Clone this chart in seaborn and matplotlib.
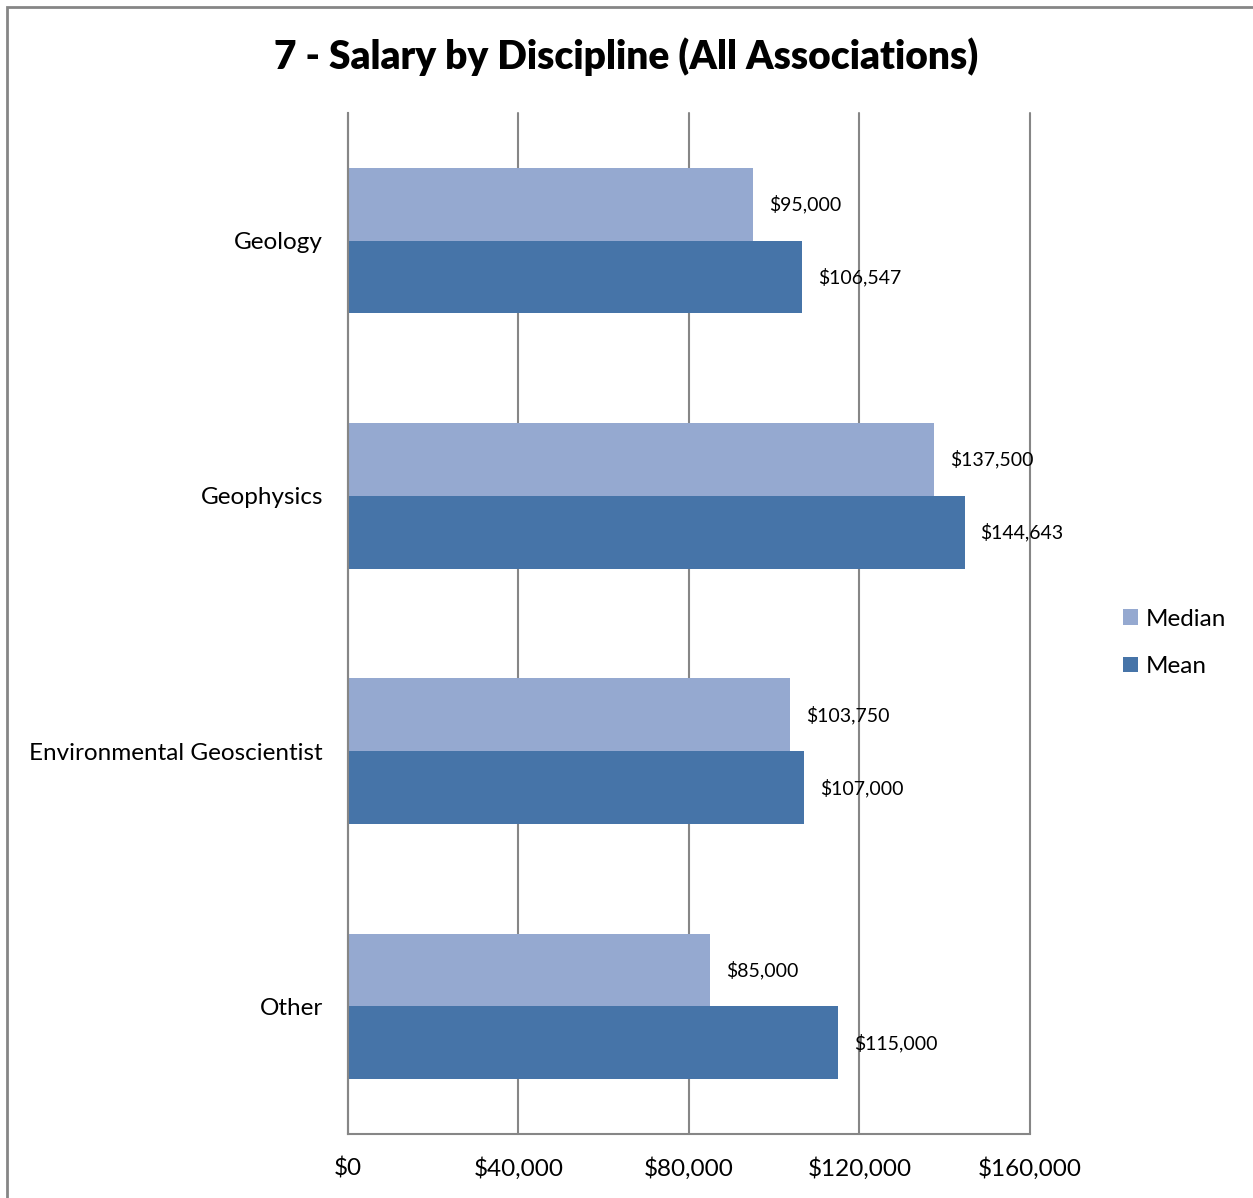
import pandas as pd
import seaborn as sns
import matplotlib.pyplot as plt
from matplotlib.patches import Rectangle

disciplines = ["Geology", "Geophysics", "Environmental Geoscientist", "Other"]
median_vals = [95000, 137500, 103750, 85000]
mean_vals = [106547, 144643, 107000, 115000]
x_ticks = [0, 40000, 80000, 120000, 160000]

df = pd.DataFrame({
    "Discipline": disciplines * 2,
    "Salary": median_vals + mean_vals,
    "Stat": ["Median"] * 4 + ["Mean"] * 4,
})

sns.set_style("white")
plt.rcParams['font.family'] = ['Lato', 'DejaVu Sans']
plt.rcParams['text.color'] = 'black'
plt.rcParams['xtick.color'] = 'black'
plt.rcParams['ytick.color'] = 'black'

fig = plt.figure(figsize=(12.53, 11.98), dpi=100)
ax = fig.add_axes([0.2777, 0.0534, 0.822 - 0.2777, 0.9057 - 0.0534])

palette = {"Median": "#95A9D0", "Mean": "#4674A8"}
sns.barplot(data=df, y="Discipline", x="Salary", hue="Stat", palette=palette,
            orient="h", width=0.571, ax=ax, saturation=1, linewidth=0)

ax.set_xlim(0, 160000)
ax.set_ylim(3.5, -0.5)
ax.set_xticks(x_ticks)
ax.set_xticklabels([f"${v:,}" for v in x_ticks], fontsize=17.5)
ax.tick_params(axis="x", pad=17, length=0)
ax.tick_params(axis="y", pad=18, length=0, labelsize=17.5)
ax.set_xlabel("")
ax.set_ylabel("")
ax.grid(axis="x", color="#868686", linewidth=1.5)
for gl in ax.get_xgridlines():
    gl.set_clip_on(False)
ax.set_axisbelow(True)
for s in ["top", "right"]:
    ax.spines[s].set_visible(False)
for s in ["left", "bottom"]:
    ax.spines[s].set_color("#868686")
    ax.spines[s].set_linewidth(1.5)

# value labels next to each bar
for cont in ax.containers:
    labels = [f"${v:,.0f}" for v in cont.datavalues]
    ax.bar_label(cont, labels=labels, padding=11.5, fontsize=14)

ax.legend(loc="center left", bbox_to_anchor=(1.105, 0.481), frameon=False,
          fontsize=17.5, handlelength=0.6, handleheight=0.6, handletextpad=0.3,
          labelspacing=1.1)

fig.suptitle("7 - Salary by Discipline (All Associations)", fontsize=28,
             fontweight="heavy", color="black", y=0.969)

# outer chart border
fig.patches.append(Rectangle((7 / 1253, -0.01), 1.5, 1 - 7 / 1198 + 0.01,
                             transform=fig.transFigure, fill=False,
                             edgecolor="#868686", linewidth=2))

fig.savefig("out.png", dpi=100)
